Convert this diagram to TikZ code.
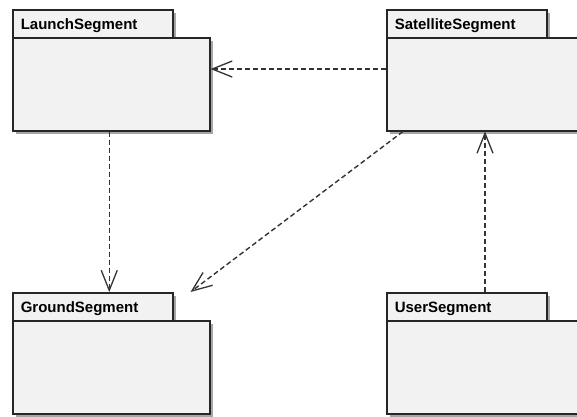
\documentclass[tikz,border=0pt]{standalone}
\usepackage{fontspec}
\setmainfont{Liberation Sans}
\usetikzlibrary{arrows.meta, shadows}

\tikzset{
	onglet/.style={draw=black!85, fill=black!5, line width=1.5pt, anchor=north west,
		minimum height=28pt, text width=144pt, inner xsep=8pt, inner ysep=0pt, align=left,
		text height=10.8pt, text depth=0pt, font=\fontsize{15}{17}\selectfont\bfseries,
		drop shadow={shadow xshift=3pt, shadow yshift=-3pt, fill=black!35, opacity=1}},
	corps/.style={draw=black!85, fill=black!5, line width=1.5pt, anchor=north west,
		minimum width=197pt, minimum height=93pt, inner sep=0pt,
		drop shadow={shadow xshift=3pt, shadow yshift=-3pt, fill=black!35, opacity=1}},
	dep/.style={draw=black!80, line width=1.4pt, dash pattern=on 5pt off 3pt,
		-{Straight Barb[length=20pt, width=16pt, line width=1.3pt]}}
}

\begin{document}
\begin{tikzpicture}[x=1pt, y=-1pt]
	\useasboundingbox (0,0) rectangle (577,416);
	\clip (0,0) rectangle (577,416);
	%les paquets du haut
	\node[onglet] (launch) at (12,9) {LaunchSegment};
	\node[corps] (launchbody) at (12,37) {};
	\node[onglet] (sat) at (386,9) {SatelliteSegment};
	\node[corps] (satbody) at (386,37) {};
	%les paquets du bas
	\node[onglet] (ground) at (12,292) {GroundSegment};
	\node[corps] (groundbody) at (12,320) {};
	\node[onglet] (user) at (386,292) {UserSegment};
	\node[corps] (userbody) at (386,320) {};
	%les dependances
	\draw[dep] ([yshift=-32pt]satbody.north west) -- ([yshift=-32pt]launchbody.north east);
	\draw[dep] ([xshift=-2pt]launchbody.south) -- ([xshift=-2pt]launchbody.south |- ground.north);
	\draw[dep] ([xshift=17pt]satbody.south west) -- ([xshift=17pt]ground.north east);
	\draw[dep] ([xshift=99pt]user.north west) -- ([xshift=99pt]satbody.south west);
\end{tikzpicture}
\end{document}
